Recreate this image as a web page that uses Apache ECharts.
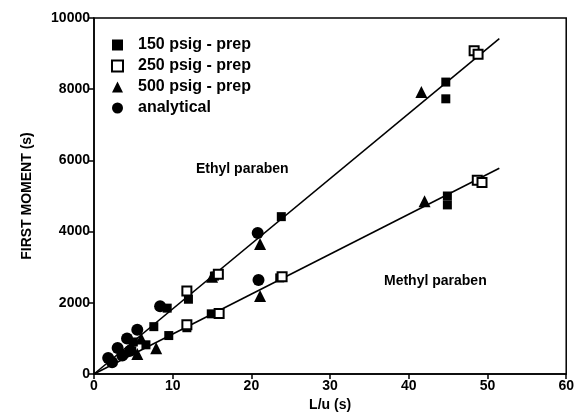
<!DOCTYPE html>
<html><head><meta charset="utf-8">
<script src="https://cdn.jsdelivr.net/npm/echarts@6/dist/echarts.min.js"></script>
<style>html,body{margin:0;padding:0;background:#fff}#c{width:577px;height:420px}</style>
</head><body><div id="c"></div>
<script>
// Data (x = L/u (s), y = first moment (s))
const psig150 = [
  [5.0,900],[7.6,1330],[9.3,1850],[12.0,2100],[15.3,2750],[23.8,4420],[44.7,8200],[44.7,7730],
  [4.8,650],[6.6,820],[9.5,1080],[11.8,1300],[14.9,1690],[23.6,2700],[44.9,5000],[44.9,4750]
];
const psig250 = [
  [11.8,2330],[15.8,2800],[48.3,9080],[48.8,8980],
  [11.8,1380],[15.9,1700],[23.9,2730],[48.7,5440],[49.3,5380]
];
const psig500 = [
  [6.0,1000],[15.0,2730],[21.1,3650],[41.6,7920],
  [5.5,560],[7.9,720],[21.1,2190],[42.0,4850]
];
const analytical = [
  [1.8,450],[3.0,730],[4.2,1000],[5.5,1240],[8.4,1900],[20.8,3960],
  [2.3,330],[3.6,520],[4.6,650],[20.9,2640]
];
const ethylLine = [[0,0],[51.5,9420]];
const methylLine = [[0,0],[51.5,5780]];
const xTicks = [0,10,20,30,40,50,60];
const yTicks = [0,2000,4000,6000,8000,10000];

const font = 'Liberation Sans, Arial, sans-serif';
const chart = echarts.init(document.getElementById('c'));
chart.setOption({
  animation:false,
  grid:{left:94,right:10,top:18,bottom:46,show:true,borderColor:'#000',borderWidth:1.5,backgroundColor:'transparent'},
  xAxis:{type:'value',min:xTicks[0],max:xTicks[xTicks.length-1],interval:10,
    name:'L/u (s)',nameLocation:'middle',nameGap:24,
    nameTextStyle:{fontFamily:font,fontWeight:'bold',fontSize:14,color:'#000'},
    axisLine:{lineStyle:{color:'#000',width:1.5}},axisTick:{length:5,lineStyle:{color:'#000',width:1.5}},
    axisLabel:{fontFamily:font,fontWeight:'bold',fontSize:14,color:'#000',margin:5},
    splitLine:{show:false}},
  yAxis:{type:'value',min:yTicks[0],max:yTicks[yTicks.length-1],interval:2000,
    name:'FIRST MOMENT (s)',nameLocation:'middle',nameGap:60,nameRotate:90,
    nameTextStyle:{fontFamily:font,fontWeight:'bold',fontSize:14,color:'#000'},
    axisLine:{lineStyle:{color:'#000',width:1.5}},axisTick:{length:5,lineStyle:{color:'#000',width:1.5}},
    axisLabel:{fontFamily:font,fontWeight:'bold',fontSize:14,color:'#000',margin:4,formatter:v=>String(v)},
    splitLine:{show:false}},
  legend:{left:106,top:32,orient:'vertical',itemGap:5,itemWidth:11,itemHeight:11,
    textStyle:{fontFamily:font,fontWeight:'bold',fontSize:16,color:'#000',padding:[0,0,0,10]},
    data:[
      {name:'150 psig - prep',icon:'rect'},
      {name:'250 psig - prep',icon:'rect'},
      {name:'500 psig - prep',icon:'triangle'},
      {name:'analytical',icon:'circle'}
    ]},
  series:[
    {type:'line',data:ethylLine,symbol:'none',lineStyle:{color:'#000',width:1.6},silent:true,z:1},
    {type:'line',data:methylLine,symbol:'none',lineStyle:{color:'#000',width:1.6},silent:true,z:1},
    {name:'analytical',type:'scatter',data:analytical,symbol:'circle',symbolSize:12,itemStyle:{color:'#000',opacity:1},z:3},
    {name:'500 psig - prep',type:'scatter',data:psig500,symbol:'triangle',symbolSize:12,itemStyle:{color:'#000',opacity:1},z:3},
    {name:'150 psig - prep',type:'scatter',data:psig150,symbol:'rect',symbolSize:9,itemStyle:{color:'#000',opacity:1},z:3},
    {name:'250 psig - prep',type:'scatter',data:psig250,symbol:'rect',symbolSize:9,itemStyle:{color:'#fff',borderColor:'#000',borderWidth:2,opacity:1},z:4}
  ],
  graphic:[
    {type:'text',left:196,top:162,style:{text:'Ethyl paraben',fontFamily:font,fontWeight:'bold',fontSize:14,fill:'#000'}},
    {type:'text',left:384,top:274,style:{text:'Methyl paraben',fontFamily:font,fontWeight:'bold',fontSize:14,fill:'#000'}}
  ]
});
</script></body></html>
